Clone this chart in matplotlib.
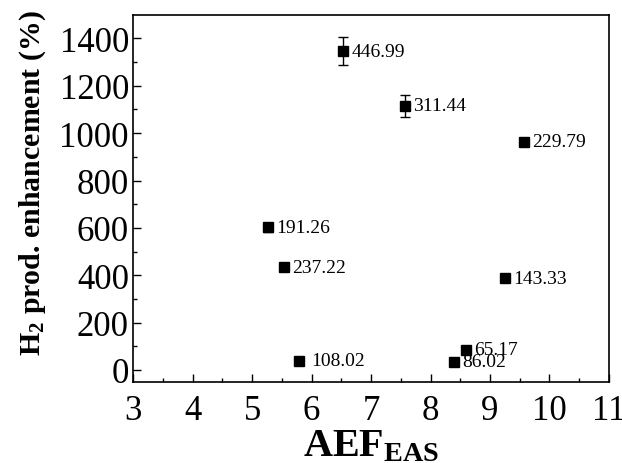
import matplotlib.pyplot as plt

plt.rcParams['font.family'] = 'Liberation Serif'
plt.rcParams['mathtext.fontset'] = 'custom'
plt.rcParams['mathtext.rm'] = 'Liberation Serif'
plt.rcParams['mathtext.bf'] = 'Liberation Serif:bold'
plt.rcParams['mathtext.it'] = 'Liberation Serif:italic'

# data
aef = [6.53, 7.57, 9.57, 5.27, 5.54, 9.25, 5.79, 8.59, 8.39]
enhancement = [1347, 1115, 964, 602, 433, 388, 39, 86, 34]
err = [58, 48, 0, 20, 8, 0, 0, 0, 0]
labels = ["446.99", "311.44", "229.79", "191.26", "237.22", "143.33",
          "108.02", "65.17", "86.02"]

fig = plt.figure(figsize=(6.22, 4.64), dpi=100)
ax = fig.add_axes([0.214, 0.175, 0.765, 0.791])

ax.errorbar(aef, enhancement, yerr=err, fmt='s', color='black',
            markersize=7.5, capsize=3.5, elinewidth=1, capthick=1)

for x, y, lab in zip(aef, enhancement, labels):
    off = 9 if lab == "108.02" else 6
    ax.annotate(lab, (x, y), xytext=(off, 0), textcoords='offset points',
                va='center', ha='left', fontsize=14)

ax.set_xlim(3, 11)
ax.set_ylim(-50, 1500)
ax.set_xticks(range(3, 12))
ax.set_yticks(range(0, 1401, 200))
ax.set_xticks([x + 0.5 for x in range(3, 11)], minor=True)
ax.set_yticks(range(100, 1500, 200), minor=True)
ax.tick_params(which='both', direction='in', labelsize=25, width=1)
ax.tick_params(axis='y', pad=3)
ax.tick_params(axis='x', pad=9)
ax.tick_params(which='major', length=6)
ax.tick_params(which='minor', length=3)
for s in ax.spines.values():
    s.set_linewidth(1.2)

ax.set_xlabel(r'$\mathbf{AEF_{EAS}}$', fontsize=29, labelpad=0)
ax.set_ylabel(r'$\mathbf{H_2}$ prod. enhancement (%)', fontsize=21.5,
              fontweight='bold')
ax.yaxis.set_label_coords(-0.178, 0.545)

fig.savefig('out.png', dpi=100)
